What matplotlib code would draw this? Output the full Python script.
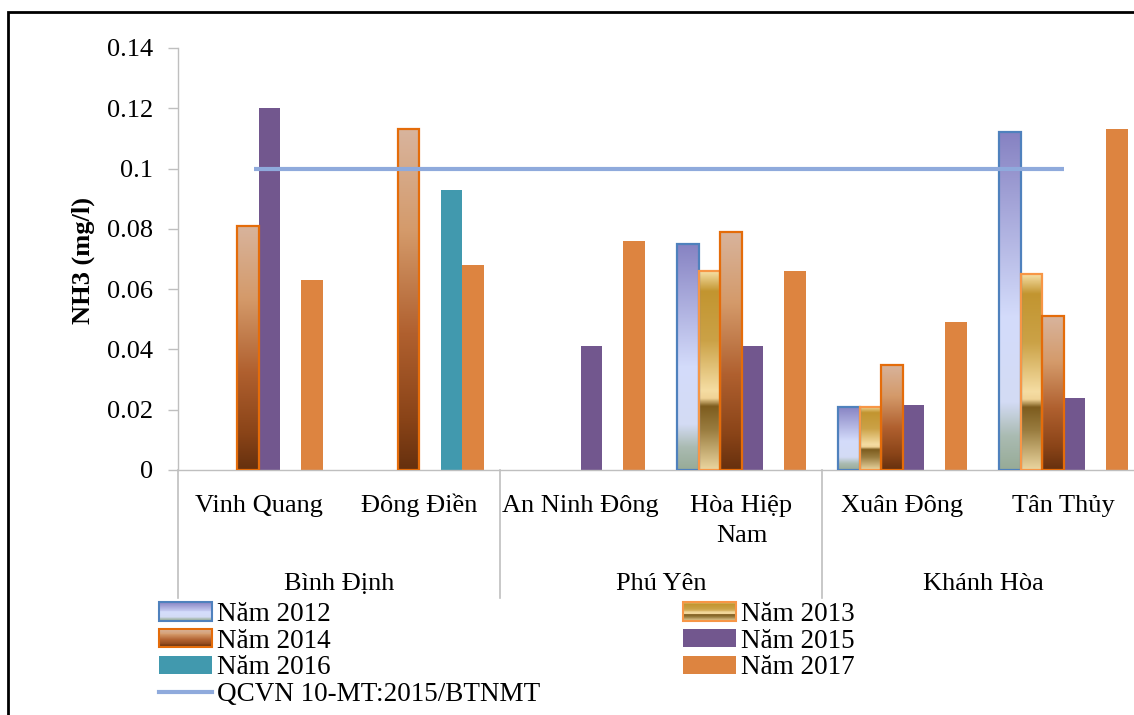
import matplotlib
matplotlib.use("Agg")
import matplotlib.pyplot as plt
from matplotlib import colors
from matplotlib.patches import Rectangle
from matplotlib.lines import Line2D
from matplotlib.legend_handler import HandlerBase
import numpy as np

plt.rcParams['font.family'] = ['Liberation Serif', 'DejaVu Serif']

# ---- data ----
sites = ['Vinh Quang', 'Đông Điền', 'An Ninh Đông', 'Hòa Hiệp\nNam', 'Xuân Đông', 'Tân Thủy']
provinces = ['Bình Định', 'Phú Yên', 'Khánh Hòa']
years = ['Năm 2012', 'Năm 2013', 'Năm 2014', 'Năm 2015', 'Năm 2016', 'Năm 2017']
nan = np.nan
v2012 = [nan, nan, nan, 0.075, 0.021, 0.112]
v2013 = [nan, nan, nan, 0.066, 0.021, 0.065]
v2014 = [0.081, 0.113, nan, 0.079, 0.035, 0.051]
v2015 = [0.120, nan, 0.041, 0.041, 0.0215, 0.024]
v2016 = [nan, 0.093, nan, nan, nan, nan]
v2017 = [0.063, 0.068, 0.076, 0.066, 0.049, 0.113]
limit_value = 0.1
limit_label = 'QCVN 10-MT:2015/BTNMT'
yticks = [0, 0.02, 0.04, 0.06, 0.08, 0.1, 0.12, 0.14]
ytick_labels = ['0', '0.02', '0.04', '0.06', '0.08', '0.1', '0.12', '0.14']

series = [v2012, v2013, v2014, v2015, v2016, v2017]

# gradient fills (top -> bottom) for the first three years, plain colours for the rest
grad_2012 = colors.LinearSegmentedColormap.from_list('g12', [
    (0.0, '#8682C2'), (0.55, '#D4DCFB'), (0.8, '#D3DBF4'), (0.9, '#AABBB2'), (1.0, '#97AB97')])
grad_2013 = colors.LinearSegmentedColormap.from_list('g13', [
    (0.0, '#F6DFA5'), (0.1, '#C29530'), (0.35, '#CBA247'), (0.6, '#F5DDA3'),
    (0.64, '#F0D396'), (0.68, '#7D5C1E'), (0.8, '#9A7D40'), (1.0, '#EBD6A0')])
grad_2014 = colors.LinearSegmentedColormap.from_list('g14', [
    (0.0, '#D8B49D'), (0.3, '#D49A6A'), (0.6, '#B0602F'), (0.85, '#8A4418'), (1.0, '#66300E')])

fills = [grad_2012, grad_2013, grad_2014, '#72578E', '#4199AE', '#DD8440']
edges = ['#4F81BD', '#F79646', '#E46C0A', None, None, None]
limit_color = '#8FAADC'

fig = plt.figure(figsize=(11.34, 7.15), dpi=100)
W, H = 1134, 715
ax_left, ax_right, ax_bottom, ax_top = 178, 1144, 470, 48
ax = fig.add_axes([ax_left / W, 1 - ax_bottom / H, (ax_right - ax_left) / W, (ax_bottom - ax_top) / H])

x = np.arange(len(sites)) + 0.5
bw = 0.8 / len(years)
for i, vals in enumerate(series):
    pos = x + (i - 2.5) * bw
    fc = fills[i]
    if isinstance(fc, str):
        ax.bar(pos, vals, width=bw, color=fc, zorder=2)
    else:
        bars = ax.bar(pos, vals, width=bw, facecolor='none', edgecolor=edges[i], linewidth=1.6, zorder=3)
        grad = np.linspace(0, 1, 256).reshape(-1, 1)
        for b in bars:
            h = b.get_height()
            if np.isnan(h):
                continue
            ax.imshow(grad, extent=[b.get_x(), b.get_x() + bw, 0, h], aspect='auto',
                      cmap=fc, origin='upper', zorder=2, interpolation='bilinear')

ax.plot([x[0] - 0.03, x[-1]], [limit_value, limit_value], color=limit_color, lw=3, zorder=4,
        solid_capstyle='butt')

ax.set_xlim(0, len(sites))
ax.set_ylim(0, 0.14)
ax.set_aspect('auto')
ax.set_yticks(yticks)
ax.set_yticklabels(ytick_labels)
ax.set_xticks([])
ax.tick_params(axis='y', length=7, width=1, color='#BFBFBF', labelsize=19, pad=11)
for s in ['top', 'right']:
    ax.spines[s].set_visible(False)
for s in ['left', 'bottom']:
    ax.spines[s].set_color('#BFBFBF')
    ax.spines[s].set_linewidth(1)

def ay(ypx):
    return (ax_bottom - ypx) / (ax_bottom - ax_top)

trans = ax.get_xaxis_transform()
for xi, name in zip(x, sites):
    for k, line in enumerate(name.split('\n')):
        ax.text(xi, ay(512 + 30 * k), line, transform=trans, ha='center', va='baseline', fontsize=19)
for k, prov in enumerate(provinces):
    ax.text(2 * k + 1, ay(590), prov, transform=trans, ha='center', va='baseline', fontsize=19)
for xs in [0, 2, 4, 6]:
    ax.plot([xs, xs], [0, ay(598)], transform=trans, color='#BFBFBF', lw=1.2, clip_on=False)

fig.text(83 / W, 1 - 261 / H, 'NH3 (mg/l)', rotation=90, ha='center', va='center',
         fontsize=19, fontweight='bold')

# frame of the original picture
fig.patches.append(Rectangle((8 / W, -0.05), 1.1, 1 - 12 / H + 0.05, transform=fig.transFigure,
                             fill=False, edgecolor='black', linewidth=2))


class HandlerGradient(HandlerBase):
    def __init__(self, cmap, edge):
        super().__init__()
        self.cmap = cmap
        self.edge = edge

    def create_artists(self, legend, orig_handle, xdescent, ydescent, width, height, fontsize, trans):
        arts = []
        n = 20
        for j in range(n):
            c = self.cmap((j + 0.5) / n)
            y0 = -ydescent + height * (1 - (j + 1) / n)
            arts.append(Rectangle((-xdescent, y0), width, height / n, facecolor=c,
                                  edgecolor='none', transform=trans))
        arts.append(Rectangle((-xdescent, -ydescent), width, height, facecolor='none',
                              edgecolor=self.edge, linewidth=1.5, transform=trans))
        return arts


handles = []
hmap = {}
for i, name in enumerate(years):
    fc = fills[i]
    if isinstance(fc, str):
        hdl = Rectangle((0, 0), 1, 1, facecolor=fc, edgecolor='none')
    else:
        hdl = Rectangle((0, 0), 1, 1, facecolor='none', edgecolor=edges[i])
        hmap[hdl] = HandlerGradient(fc, edges[i])
    handles.append(hdl)
limit_handle = Line2D([0], [0], color=limit_color, lw=3)

order_h = [handles[0], handles[2], handles[4], limit_handle, handles[1], handles[3], handles[5]]
order_l = [years[0], years[2], years[4], limit_label, years[1], years[3], years[5]]
fig.legend(order_h, order_l, handler_map=hmap, loc='upper left',
           bbox_to_anchor=(159 / W, 1 - 602 / H), ncol=2, frameon=False, fontsize=19.5,
           handlelength=1.95, handleheight=0.65, handletextpad=0.18, labelspacing=0.06,
           columnspacing=5.3, borderpad=0, borderaxespad=0)

fig.savefig('out.png', dpi=100)
